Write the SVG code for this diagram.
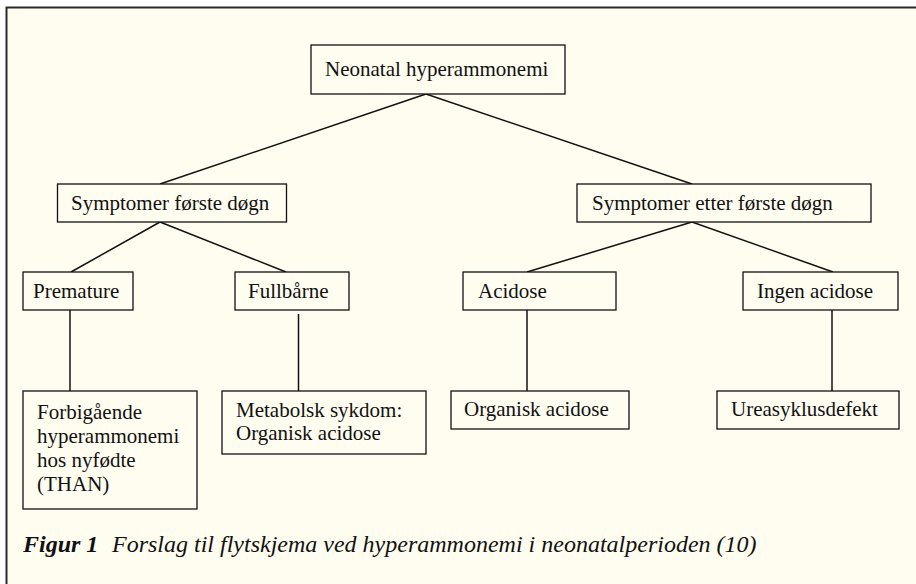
<svg xmlns="http://www.w3.org/2000/svg" width="916" height="584" viewBox="0 0 916 584">
<style>
.bg{fill:#fffdf0;stroke:#2a2a2a;stroke-width:2}
.box{fill:#fffdf0;stroke:#111;stroke-width:1.3}
.lbl{font-family:'Liberation Serif','Times New Roman','DejaVu Serif',serif;font-size:21px;fill:#111}
.cap{font-family:'Liberation Serif','Times New Roman','DejaVu Serif',serif;font-size:24px;font-style:italic;fill:#111}
.con line{stroke:#111;stroke-width:1.5}
</style>
<rect x="0" y="0" width="916" height="584" fill="#ffffff"/>
<rect class="bg" x="6.5" y="7.5" width="930" height="600"/>
<g id="connectors" class="con">
<line x1="426" y1="94" x2="160" y2="184"/>
<line x1="426" y1="94" x2="692" y2="184"/>
<line x1="160" y1="222" x2="71" y2="272"/>
<line x1="160" y1="222" x2="286" y2="272"/>
<line x1="692" y1="222" x2="527" y2="272"/>
<line x1="692" y1="222" x2="833" y2="272"/>
<line x1="70" y1="310" x2="70" y2="391"/>
<line x1="298.5" y1="314" x2="298.5" y2="391"/>
<line x1="527" y1="310" x2="527" y2="391"/>
<line x1="832" y1="310" x2="832" y2="391"/>
</g>
<g id="n-root"><rect class="box" x="311" y="45" width="254" height="49"/><text class="lbl" x="325" y="76">Neonatal hyperammonemi</text></g>
<g id="n-forste"><rect class="box" x="57.5" y="184" width="229" height="38"/><text class="lbl" x="71" y="210">Symptomer første døgn</text></g>
<g id="n-etter"><rect class="box" x="577" y="184" width="294" height="38"/><text class="lbl" x="592" y="210">Symptomer etter første døgn</text></g>
<g id="n-prem"><rect class="box" x="23" y="272" width="110" height="38"/><text class="lbl" x="33" y="298">Premature</text></g>
<g id="n-full"><rect class="box" x="235" y="272" width="114" height="38"/><text class="lbl" x="248" y="298">Fullbårne</text></g>
<g id="n-acid"><rect class="box" x="463" y="272" width="153" height="38"/><text class="lbl" x="478" y="298">Acidose</text></g>
<g id="n-ingen"><rect class="box" x="743" y="272" width="155" height="38"/><text class="lbl" x="757" y="298">Ingen acidose</text></g>
<g id="n-than"><rect class="box" x="23" y="391" width="174" height="118"/><text class="lbl" x="37" y="419">Forbigående</text><text class="lbl" x="37" y="443">hyperammonemi</text><text class="lbl" x="37" y="467">hos nyfødte</text><text class="lbl" x="37" y="491">(THAN)</text></g>
<g id="n-meta"><rect class="box" x="222" y="391" width="204" height="63"/><text class="lbl" x="236" y="417">Metabolsk sykdom:</text><text class="lbl" x="236" y="440">Organisk acidose</text></g>
<g id="n-org"><rect class="box" x="451" y="391" width="178" height="38"/><text class="lbl" x="464" y="416">Organisk acidose</text></g>
<g id="n-urea"><rect class="box" x="717" y="391" width="182" height="38"/><text class="lbl" x="731" y="416">Ureasyklusdefekt</text></g>
<text class="cap" x="23" y="552"><tspan font-weight="bold">Figur 1</tspan><tspan x="112">Forslag til flytskjema ved hyperammonemi i neonatalperioden (10)</tspan></text>
</svg>
